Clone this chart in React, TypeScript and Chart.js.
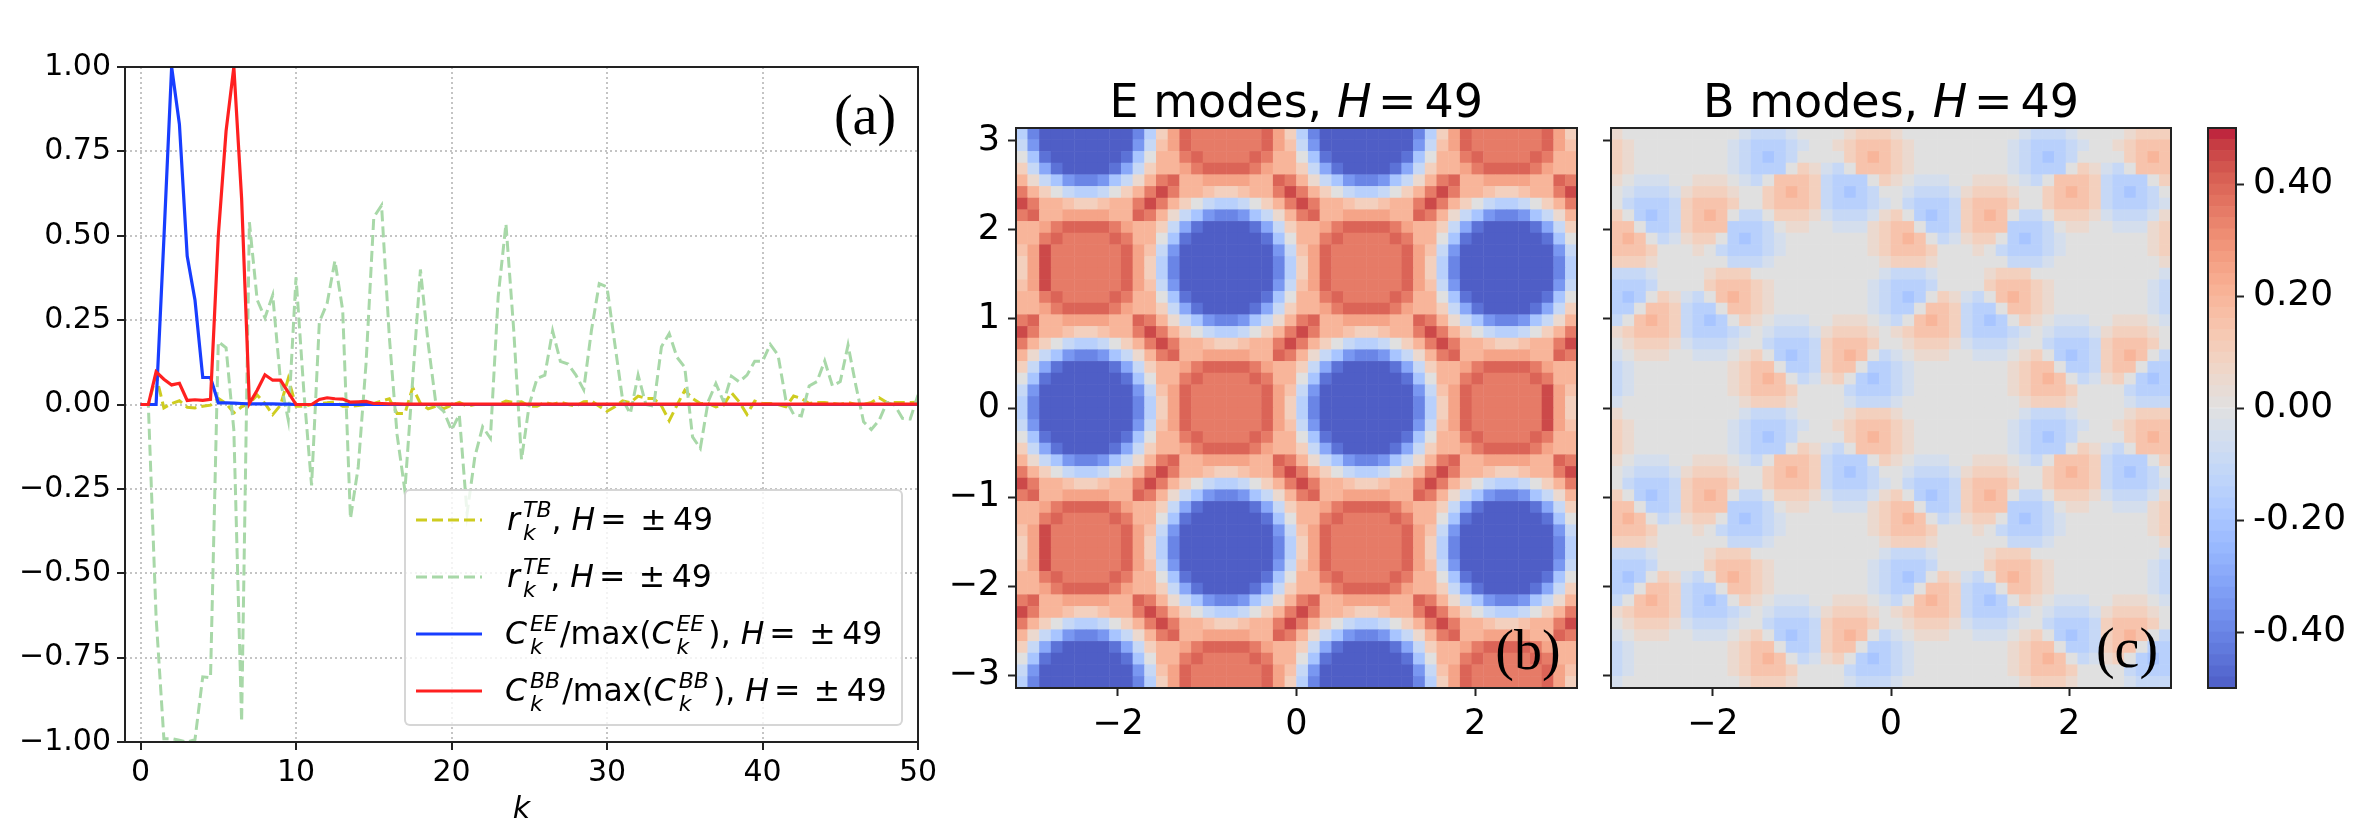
import { useEffect, useRef } from "react"
import { Chart, registerables } from "chart.js"

Chart.register(...registerables)

const W = 2374
const H = 840

// panel (a): correlation and normalised spectra against k
const kValues = [
  0, 0.5, 1, 1.5, 2, 2.5, 3, 3.5, 4, 4.5, 5, 5.5, 6, 6.5, 7, 7.5, 8, 8.5, 9, 9.5,
  10, 10.5, 11, 11.5, 12, 12.5, 13, 13.5, 14, 14.5, 15, 15.5, 16, 16.5, 17, 17.5, 18, 18.5, 19, 19.5,
  20, 20.5, 21, 21.5, 22, 22.5, 23, 23.5, 24, 24.5, 25, 25.5, 26, 26.5, 27, 27.5, 28, 28.5, 29, 29.5,
  30, 30.5, 31, 31.5, 32, 32.5, 33, 33.5, 34, 34.5, 35, 35.5, 36, 36.5, 37, 37.5, 38, 38.5, 39, 39.5,
  40, 40.5, 41, 41.5, 42, 42.5, 43, 43.5, 44, 44.5, 45, 45.5, 46, 46.5, 47, 47.5, 48, 48.5, 49, 49.5,
  50,
]
const rTB = [
  0, 0, 0.085, -0.01, 0.003, 0.011, -0.008, -0.01, -0.005, -0.002,
  0.018, 0.003, -0.025, -0.007, 0.003, 0.028, 0.003, -0.03, -0.002, 0.077,
  -0.005, -0.005, 0, 0.003, 0.005, 0.008, -0.005, -0.005, -0.003, 0,
  0.003, 0.01, 0.017, -0.027, -0.027, 0.05, 0.003, -0.013, -0.005, -0.012,
  -0.002, 0.006, -0.005, 0, 0, 0, 0, 0.01, 0.006, 0.008,
  -0.005, -0.005, 0.006, 0, 0.007, 0, -0.005, 0.008, 0.01, -0.005,
  -0.02, -0.007, 0.011, 0.005, 0.025, 0.018, 0.018, -0.004, -0.048, -0.002,
  0.042, 0.018, 0.003, 0.003, -0.007, -0.002, 0.035, 0.008, -0.029, 0.01,
  0.003, 0.003, 0, -0.007, 0.025, 0.018, 0.003, 0.006, 0.006, 0.003,
  0, 0.006, 0, 0, 0.006, 0.02, 0.006, 0.006, 0.006, 0.006,
  0.007,
]
const rTE = [
  0, 0, -0.63, -0.99, -0.99, -0.995, -1, -0.993, -0.807, -0.81,
  0.186, 0.168, -0.076, -0.94, 0.54, 0.31, 0.257, 0.324, 0.07, -0.046,
  0.377, 0.04, -0.24, 0.245, 0.3, 0.426, 0.28, -0.338, -0.185, 0.12,
  0.555, 0.59, 0.2, -0.09, -0.255, 0.072, 0.4, 0.18, 0, -0.02,
  -0.076, -0.03, -0.323, -0.155, -0.066, -0.1, 0.32, 0.535, 0.22, -0.163,
  0, 0.077, 0.087, 0.218, 0.128, 0.12, 0.087, 0.044, 0.22, 0.358,
  0.348, 0.18, 0.015, -0.027, 0.087, 0, -0.005, 0.171, 0.21, 0.14,
  0.11, -0.096, -0.13, 0.008, 0.062, 0.008, 0.084, 0.067, 0.087, 0.128,
  0.128, 0.178, 0.146, 0.013, -0.029, -0.034, 0.055, 0.068, 0.129, 0.055,
  0.068, 0.176, 0.057, -0.051, -0.074, -0.047, 0.006, -0.002, -0.041, -0.043,
  0.028,
]
const cEE = [
  0, 0, 0, 0.49, 1, 0.83, 0.44, 0.31, 0.08, 0.08,
  0.005, 0.005, 0.004, 0.003, 0.002, 0.002, 0.002, 0.002, 0.001, 0.001,
  0, 0, 0, 0, 0, 0, 0, 0, 0, 0,
  0, 0, 0, 0, 0, 0, 0, 0, 0, 0,
  0, 0, 0, 0, 0, 0, 0, 0, 0, 0,
  0, 0, 0, 0, 0, 0, 0, 0, 0, 0,
  0, 0, 0, 0, 0, 0, 0, 0, 0, 0,
  0, 0, 0, 0, 0, 0, 0, 0, 0, 0,
  0, 0, 0, 0, 0, 0, 0, 0, 0, 0,
  0, 0, 0, 0, 0, 0, 0, 0, 0, 0,
  0,
]
const cBB = [
  0, 0, 0.097, 0.075, 0.058, 0.063, 0.012, 0.014, 0.012, 0.015,
  0.5, 0.81, 1, 0.61, 0.003, 0.042, 0.088, 0.072, 0.072, 0.036,
  0, 0, 0, 0.015, 0.02, 0.017, 0.016, 0.007, 0.008, 0.009,
  0.003, 0.003, 0.002, 0.002, 0.001, 0.001, 0.001, 0.001, 0.001, 0.001,
  0.001, 0.001, 0.001, 0.001, 0.001, 0.001, 0.001, 0.001, 0.001, 0.001,
  0.001, 0.001, 0.001, 0.001, 0.001, 0.001, 0.001, 0.001, 0.001, 0.001,
  0.001, 0.001, 0.001, 0.001, 0.001, 0.001, 0.001, 0.001, 0.001, 0.001,
  0.001, 0.001, 0.001, 0.001, 0.001, 0.001, 0.001, 0.001, 0.001, 0.001,
  0.001, 0.001, 0.001, 0.001, 0.001, 0.001, 0.001, 0.001, 0.001, 0.001,
  0.001, 0.001, 0.001, 0.001, 0.001, 0.001, 0.001, 0.001, 0.001, 0.001,
  0.001,
]

const kTicks = [0, 10, 20, 30, 40, 50]
const rTicks = [-1, -0.75, -0.5, -0.25, 0, 0.25, 0.5, 0.75, 1]
const mapXTicks = [-2, 0, 2]
const mapYTicks = [-3, -2, -1, 0, 1, 2, 3]
const barTicks = [-0.4, -0.2, 0, 0.2, 0.4]

const YELLOW = "rgb(206,204,32)"
const GREEN = "rgb(168,216,168)"
const BLUE = "rgb(24,62,255)"
const RED = "rgb(255,32,32)"

// one letter per cell, a = -0.50 ... k = 0 ... u = 0.50
const levelKeys = "abcdefghijklmnopqrstu"
const levelValues = [
  -0.5, -0.45, -0.4, -0.35, -0.3, -0.25, -0.2, -0.15, -0.1, -0.05, 0,
  0.05, 0.1, 0.15, 0.2, 0.25, 0.3, 0.35, 0.4, 0.45, 0.5,
]

const eModeRows = [
  "hcaaaa aaaachmpsrrr rrrspmhcaaaa aaaachmpsrrr rrrspm",
  "idaaaa aaaadinpsrrr rrrspnidaaaa aaaadinpsrrr rrrspn",
  "kgbaaa aaabgkoorsrr rrsrookgbaaa aaabgkoorsrr rrsroo",
  "miebaa aabeimooprss ssrpoomiebaa aabeimooprss ssrpoo",
  "oligdc cdgilorsoopp ppoosroligdc cdgilorsoopp ppoosr",
  "romkih hikmortroonm mnoortromkih hikmortroonm mnoort",
  "troonm mnoortromkih hikmortroonm mnoortromkih hikmor",
  "rsoopp ppoosroligdc cdgilorsoopp ppoosroligdc cdgilo",
  "ooprss ssrpoomiebaa aabeimooprss ssrpoomiebaa aabeim",
  "oorsrr rrsrookgbaaa aaabgkoorsrr rrsrookgbaaa aaabgk",
  "nptrrr rrrspnidaaaa aaaadinpsrrr rrrspnidaaaa aaaadi",
  "mptrrr rrrspmhcaaaa aaaachmpsrrr rrrspmhcaaaa aaaach",
  "mptrrr rrrspmhcaaaa aaaachmpsrrr rrrspmhcaaaa aaaach",
  "nptrrr rrrspnidaaaa aaaadinpsrrr rrrspnidaaaa aaaadi",
  "oorsrr rrsrookgbaaa aaabgkoorsrr rrsrookgbaaa aaabgk",
  "ooprss ssrpoomiebaa aabeimooprss ssrpoomiebaa aabeim",
  "rsoopp ppoosroligdc cdgilorsoopp ppoosroligdc cdgilo",
  "troonm mnoortromkih hikmortroonm mnoortromkih hikmor",
  "romkih hikmortroonm mnoortromkih hikmortroonm mnoort",
  "oligdc cdgilorsoopp ppoosroligdc cdgilorsoopp ppoosr",
  "miebaa aabeimooprss ssrpoomiebaa aabeimooprss ssrpoo",
  "kgbaaa aaabgkoorsrr rrsrookgbaaa aaabgkoorsrr rrsroo",
  "idaaaa aaaadinpsrrr rrrspnidaaaa aaaadinpsrrr rrrtpn",
  "hcaaaa aaaachmpsrrr rrrspmhcaaaa aaaachmpsrrr rrrtpm",
  "hcaaaa aaaachmpsrrr rrrspmhcaaaa aaaachmpsrrr rrrtpm",
  "idaaaa aaaadinpsrrr rrrspnidaaaa aaaadinpsrrr rrrtpn",
  "kgbaaa aaabgkoorsrr rrsrookgbaaa aaabgkoorsrr rrsroo",
  "miebaa aabeimooprss ssrpoomiebaa aabeimooprss ssrpoo",
  "oligdc cdgilorsoopp ppoosroligdc cdgilorsoopp ppoosr",
  "romkih hikmortroonm mnoortromkih hikmortroonm mnoort",
  "troonm mnoortromkih hikmortroonm mnoortromkih hikmor",
  "rsoopp ppoosroligdc cdgilorsoopp ppoosroligdc cdgilo",
  "ooprss ssrpoomiebaa aabeimooprss ssrpoomiebaa aabeim",
  "oorsrr rrsrookgbaaa aaabgkoorsrr rrsrookgbaaa aaabgk",
  "nptrrr rrrspnidaaaa aaaadinpsrrr rrrspnidaaaa aaaadi",
  "mptrrr rrrspmhcaaaa aaaachmpsrrr rrrspmhcaaaa aaaach",
  "mptrrr rrrspmhcaaaa aaaachmpsrrr rrrspmhcaaaa aaaach",
  "nptrrr rrrspnidaaaa aaaadinpsrrr rrrspnidaaaa aaaadi",
  "oorsrr rrsrookgbaaa aaabgkoorsrr rrsrookgbaaa aaabgk",
  "ooprss ssrpoomiebaa aabeimooprss ssrpoomiebaa aabeim",
  "rsoopp ppoosroligdc cdgilorsoopp ppoosroligdc cdgilo",
  "troonm mnoortromkih hikmortroonm mnoortromkih hikmor",
  "romkih hikmortroonm mnoortromkih hikmortroonm mnoort",
  "oligdc cdgilorsoopp ppoosroligdc cdgilorsoopp ppoosr",
  "miebaa aabeimooprss ssrpoomiebaa aabeimooprss ssrpoo",
  "kgbaaa aaabgkoorsrr rrsrookgbaaa aaabgkoorsrr rrsroo",
  "idaaaa aaaadinpsrrr rrrspnidaaaa aaaadinpsrrr rrrspn",
  "hcaaaa aaaachmpsrrr rrrspmhcaaaa aaaachmpsrrr rrrspm",
]

const bModeRows = [
  "lkkkkkkkkkkjiiijkkkklmmm lkkkkkkkkkkjiiijkkkklmmm",
  "mlkkkkkkkkjihhhijkklmnnn mlkkkkkkkkjihhhijkklmnnn",
  "mlkkkkkkkkjihghikkkkmnon mlkkkkkkkkjihghikkkkmnon",
  "mlkkkkkkkkjihhhkmljiknnn mlkkkkkkkkjihhhkmljiknnn",
  "lkjjjkklllkjiknnnmihhhkm lkjjjkklllkjiknnnmihhhkm",
  "kjiiijlmmmlkkmnonmihghik kjiiijlmmmlkkmnonmihghik",
  "kihhhimnnnmkkmnnnmihhhij kihhhimnnnmkkmnnnmihhhij",
  "mkhghimnonkiikmmmljiiijl mkhghimnonkiikmmmljiiijl",
  "nnkhhimnnnhhhikllkkjjjlm nnkhhimnnnhhhikllkkjjjlm",
  "nonkijlmmkhghijkkkkkkklm nonkijlmmkhghijkkkkkkklm",
  "nnnmkkklkihhhijkkkkkkklm nnnmkkklkihhhijkkkkkkklm",
  "mmmlkkkkkkiiijkkkkkkkkkl mmmlkkkkkkiiijkkkkkkkkkl",
  "iiijkkkklmmmkkkkkkkkkkkj iiijkkkklmmmkkkkkkkkkkkj",
  "hhhikkkkmnnnmlkkkkkkkkji hhhikkkkmnnnmlkkkkkkkkji",
  "hghkmljiknonmlkkkkkkkkji hghkmljiknonmlkkkkkkkkji",
  "hhknnmihhknnmlkkkkkkkkji hhknnmihhknnmlkkkkkkkkji",
  "iknonmihghkmlkjjjkklllkj iknonmihghkmlkjjjkklllkj",
  "lmnnnmihhhijkjiiijlmmmlk lmnnnmihhhijkjiiijlmmmlk",
  "klmmmljiiijkkihhhimnnnmk klmmmljiiijkkihhhimnnnmk",
  "jklllkkjjjklmkhghimnonki jklllkkjjjklmkhghimnonki",
  "ijkkkkkkkklmnnkhhimnnkhh ijkkkkkkkklmnnkhhimnnkhh",
  "ijkkkkkkkklmnonkijlmkhgh ijkkkkkkkklmnonkijlmkhgh",
  "ijkkkkkkkklmnnnmkkkkihhh ijkkkkkkkklmnnnmkkkkihhh",
  "jkkkkkkkkkklmmmlkkkkjiii jkkkkkkkkkklmmmlkkkkjiii",
  "lkkkkkkkkkkjiiijkkkklmmm lkkkkkkkkkkjiiijkkkklmmm",
  "mlkkkkkkkkjihhhijkklmnnn mlkkkkkkkkjihhhijkklmnnn",
  "mlkkkkkkkkjihghikkkkmnon mlkkkkkkkkjihghikkkkmnon",
  "mlkkkkkkkkjihhhkmljiknnn mlkkkkkkkkjihhhkmljiknnn",
  "lkjjjkklllkjiknnnmihhhkm lkjjjkklllkjiknnnmihhhkm",
  "kjiiijlmmmlkkmnonmihghik kjiiijlmmmlkkmnonmihghik",
  "kihhhimnnnmkkmnnnmihhhij kihhhimnnnmkkmnnnmihhhij",
  "mkhghimnonkiikmmmljiiijl mkhghimnonkiikmmmljiiijl",
  "nnkhhimnnnhhhikllkkjjjlm nnkhhimnnnhhhikllkkjjjlm",
  "nonkijlmmkhghijkkkkkkklm nonkijlmmkhghijkkkkkkklm",
  "nnnmkkklkihhhijkkkkkkklm nnnmkkklkihhhijkkkkkkklm",
  "mmmlkkkkkkiiijkkkkkkkkkl mmmlkkkkkkiiijkkkkkkkkkl",
  "iiijkkkklmmmkkkkkkkkkkkj iiijkkkklmmmkkkkkkkkkkkj",
  "hhhikkkkmnnnmlkkkkkkkkji hhhikkkkmnnnmlkkkkkkkkji",
  "hghkmljiknonmlkkkkkkkkji hghkmljiknonmlkkkkkkkkji",
  "hhknnmihhknnmlkkkkkkkkji hhknnmihhknnmlkkkkkkkkji",
  "iknonmihghkmlkjjjkklllkj iknonmihghkmlkjjjkklllkj",
  "lmnnnmihhhijkjiiijlmmmlk lmnnnmihhhijkjiiijlmmmlk",
  "klmmmljiiijkkihhhimnnnmk klmmmljiiijkkihhhimnnnmk",
  "jklllkkjjjklmkhghimnonki jklllkkjjjklmkhghimnonki",
  "ijkkkkkkkklmnnkhhimnnkhh ijkkkkkkkklmnnkhhimnnkhh",
  "ijkkkkkkkklmnonkijlmkhgh ijkkkkkkkklmnonkijlmkhgh",
  "ijkkkkkkkklmnnnmkkkkihhh ijkkkkkkkklmnnnmkkkkihhh",
  "jkkkkkkkkkklmmmlkkkkjiii jkkkkkkkkkklmmmlkkkkjiii",
]

// colour bar steps
const barEdges = [
  -0.5, -0.48, -0.46, -0.44, -0.42, -0.4, -0.38, -0.36, -0.34, -0.32, -0.3, -0.28, -0.26,
  -0.24, -0.22, -0.2, -0.18, -0.16, -0.14, -0.12, -0.1, -0.08, -0.06, -0.04, -0.02, 0,
  0.02, 0.04, 0.06, 0.08, 0.1, 0.12, 0.14, 0.16, 0.18, 0.2, 0.22, 0.24, 0.26, 0.28, 0.3,
  0.32, 0.34, 0.36, 0.38, 0.4, 0.42, 0.44, 0.46, 0.48, 0.5,
]

// matplotlib coolwarm
const coolwarm = [
  [59, 76, 192], [68, 90, 204], [77, 104, 215], [87, 117, 225], [98, 130, 234], [108, 142, 241],
  [119, 154, 247], [130, 165, 251], [141, 176, 254], [152, 185, 255], [163, 194, 255], [174, 201, 253],
  [184, 208, 249], [194, 213, 244], [204, 217, 238], [213, 219, 230], [221, 221, 221], [229, 216, 209],
  [236, 211, 197], [241, 204, 185], [245, 196, 173], [247, 187, 160], [247, 177, 148], [247, 166, 135],
  [244, 154, 123], [241, 141, 111], [236, 127, 99], [229, 112, 88], [222, 96, 77], [213, 80, 66],
  [203, 62, 56], [192, 40, 47], [180, 4, 38],
]
const V_MIN = -0.5
const V_MAX = 0.5

function colorFor(v: number) {
  const t = Math.min(Math.max((v - V_MIN) / (V_MAX - V_MIN), 0), 1) * (coolwarm.length - 1)
  const i = Math.min(Math.floor(t), coolwarm.length - 2)
  const f = t - i
  // alpha 0.9 over white
  const ch = (n: number) => Math.round((coolwarm[i][n] * (1 - f) + coolwarm[i + 1][n] * f) * 0.9 + 25.5)
  return `rgb(${ch(0)},${ch(1)},${ch(2)})`
}

const GRID_SIZE = 48
const gridAxis = Array.from({ length: GRID_SIZE }, (_, i) => -Math.PI + ((i + 0.5) * 2 * Math.PI) / GRID_SIZE)

function cellsFrom(rows: string[]) {
  return rows.flatMap((row, j) =>
    [...row.replace(/ /g, "")].map((ch, i) => ({
      x: gridAxis[i],
      y: gridAxis[GRID_SIZE - 1 - j],
      v: levelValues[levelKeys.indexOf(ch)],
    })),
  )
}

const areaA = { left: 125, right: 918, top: 67, bottom: 742 }
const areaB = { left: 1016, right: 1577, top: 128, bottom: 688 }
const areaC = { left: 1611, right: 2171, top: 128, bottom: 688 }
const areaBar = { left: 2208, right: 2236, top: 128, bottom: 688 }

const SPINE = "#222"

const framePlugin = {
  id: "frame",
  afterDraw(chart: any) {
    const { ctx, chartArea: a } = chart
    ctx.save()
    ctx.strokeStyle = SPINE
    ctx.lineWidth = 2
    ctx.strokeRect(a.left, a.top, a.right - a.left, a.bottom - a.top)
    ctx.restore()
  },
}

const withTicks = (values: number[]) => (scale: any) => {
  scale.ticks = values.map((value) => ({ value }))
}

const baseOptions = {
  responsive: false,
  animation: false,
  devicePixelRatio: 1,
  events: [],
  plugins: { legend: { display: false }, tooltip: { enabled: false } },
}

Chart.defaults.font.family = '"DejaVu Sans", sans-serif'

const lineDataset = (label: string, values: number[], color: string, dashed: boolean, order: number) => ({
  label,
  data: kValues.map((x, i) => ({ x, y: values[i] })),
  borderColor: color,
  borderWidth: dashed ? 3 : 3.2,
  borderDash: dashed ? [11, 5] : [],
  pointRadius: 0,
  tension: 0,
  order,
})

const dottedGrid = { color: "#c4c4c4", lineWidth: 2, tickColor: SPINE, tickWidth: 2, tickLength: 8 }

const lineConfig: any = {
  type: "line",
  data: {
    datasets: [
      lineDataset("rTB", rTB, YELLOW, true, 3),
      lineDataset("rTE", rTE, GREEN, true, 2),
      lineDataset("cEE", cEE, BLUE, false, 1),
      lineDataset("cBB", cBB, RED, false, 0),
    ],
  },
  options: {
    ...baseOptions,
    layout: { padding: { left: 0, top: areaA.top, right: W - areaA.right, bottom: 0 } },
    scales: {
      x: {
        type: "linear",
        min: -1,
        max: 50,
        afterBuildTicks: withTicks(kTicks),
        afterFit: (s: any) => { s.height = H - areaA.bottom },
        grid: dottedGrid,
        border: { display: false, dash: [2, 3] },
        ticks: { font: { size: 30 }, color: "#000", padding: 5, maxRotation: 0, autoSkip: false },
        title: { display: true, text: "k", font: { size: 30, style: "italic" }, color: "#000", padding: { top: 0, bottom: 12 } },
      },
      y: {
        min: -1,
        max: 1,
        afterBuildTicks: withTicks(rTicks),
        afterFit: (s: any) => { s.width = areaA.left },
        grid: dottedGrid,
        border: { display: false, dash: [2, 3] },
        ticks: {
          font: { size: 30 },
          color: "#000",
          padding: 6,
          autoSkip: false,
          callback: (v: number) => v.toFixed(2).replace("-", "\u2212"),
        },
      },
    },
  },
  plugins: [framePlugin],
}

const mapConfig = (rows: string[], area: typeof areaB, showY: boolean): any => {
  const cells = cellsFrom(rows)
  return {
    type: "scatter",
    data: {
      datasets: [
        {
          data: cells,
          backgroundColor: cells.map((c) => colorFor(c.v)),
          pointStyle: "rect",
          pointRadius: 8.6,
          pointBorderWidth: 0,
        },
      ],
    },
    options: {
      ...baseOptions,
      layout: { padding: { left: 0, top: area.top, right: W - area.right, bottom: 0 } },
      scales: {
        x: {
          type: "linear",
          min: -Math.PI,
          max: Math.PI,
          afterBuildTicks: withTicks(mapXTicks),
          afterFit: (s: any) => { s.height = H - area.bottom },
          grid: { drawOnChartArea: false, tickColor: SPINE, tickWidth: 2, tickLength: 8 },
          border: { display: false },
          ticks: {
            font: { size: 35 },
            color: "#000",
            padding: 8,
            maxRotation: 0,
            autoSkip: false,
            callback: (v: number) => String(v).replace("-", "\u2212"),
          },
        },
        y: {
          type: "linear",
          min: -Math.PI,
          max: Math.PI,
          afterBuildTicks: withTicks(mapYTicks),
          afterFit: (s: any) => { s.width = area.left },
          grid: { drawOnChartArea: false, tickColor: SPINE, tickWidth: 2, tickLength: 8 },
          border: { display: false },
          ticks: {
            display: showY,
            font: { size: 35 },
            color: "#000",
            padding: 8,
            autoSkip: false,
            callback: (v: number) => String(v).replace("-", "\u2212"),
          },
        },
      },
    },
    plugins: [framePlugin],
  }
}

const barConfig: any = {
  type: "bar",
  data: {
    labels: [""],
    datasets: barEdges.slice(0, -1).map((lo, i) => ({
      data: [[lo, barEdges[i + 1]]],
      backgroundColor: colorFor((lo + barEdges[i + 1]) / 2),
      grouped: false,
      barPercentage: 1,
      categoryPercentage: 1,
      borderWidth: 0,
    })),
  },
  options: {
    ...baseOptions,
    layout: { padding: { left: areaBar.left, top: areaBar.top, right: 0, bottom: H - areaBar.bottom } },
    scales: {
      x: { display: false },
      y: {
        position: "right",
        min: V_MIN,
        max: V_MAX,
        afterBuildTicks: withTicks(barTicks),
        afterFit: (s: any) => { s.width = W - areaBar.right },
        grid: { drawOnChartArea: false, tickColor: SPINE, tickWidth: 2, tickLength: 8 },
        border: { display: false },
        ticks: {
          font: { size: 36 },
          color: "#000",
          padding: 9,
          autoSkip: false,
          callback: (v: number) => v.toFixed(2),
        },
      },
    },
  },
  plugins: [framePlugin],
}

function ChartLayer({ build }: { build: () => any }) {
  const ref = useRef<HTMLCanvasElement>(null)

  useEffect(() => {
    if (!ref.current) return
    const chart = new Chart(ref.current, build())
    return () => chart.destroy()
  }, [build])

  return <canvas ref={ref} width={W} height={H} style={{ position: "absolute", left: 0, top: 0 }} />
}

const buildLine = () => lineConfig
const buildE = () => mapConfig(eModeRows, areaB, true)
const buildB = () => mapConfig(bModeRows, areaC, false)
const buildBar = () => barConfig

const SANS = '"DejaVu Sans", sans-serif'
const LEGEND_FONT = 31.5
const LEGEND_LEFT = 404
const LEGEND_TOP = 489
const LEGEND_BORDER = 2

// mathtext-like stacked super and subscript, it does not change the line box
function Scripts({ sup, width }: { sup: string; width: number }) {
  const small: React.CSSProperties = {
    position: "absolute",
    left: 0,
    fontSize: 22,
    lineHeight: 1,
    fontStyle: "italic",
  }
  return (
    <span style={{ display: "inline-block", position: "relative", width, height: 0 }}>
      <span style={{ ...small, bottom: 9 }}>{sup}</span>
      <span style={{ ...small, top: -8 }}>k</span>
    </span>
  )
}

function Tail() {
  return (
    <>
      <span>,</span>
      <i style={{ marginLeft: 10 }}>H</i>
      <span style={{ marginLeft: 5 }}>=</span>
      <span style={{ marginLeft: 13.5 }}>±</span>
      <span style={{ marginLeft: 6.5 }}>49</span>
    </>
  )
}

function LegendRow({ y, color, dashed, children }: { y: number; color: string; dashed: boolean; children: any }) {
  return (
    <>
      <svg
        width={66}
        height={6}
        style={{ position: "absolute", left: 416 - LEGEND_LEFT - LEGEND_BORDER, top: y - 3 - LEGEND_TOP - LEGEND_BORDER }}
      >
        <line x1={0} x2={66} y1={3} y2={3} stroke={color} strokeWidth={3.2} strokeDasharray={dashed ? "11 5" : undefined} />
      </svg>
      <div
        style={{
          position: "absolute",
          left: 505 - LEGEND_LEFT - LEGEND_BORDER,
          top: y + 10 - 29 - LEGEND_TOP - LEGEND_BORDER,
          lineHeight: "36px",
          fontSize: LEGEND_FONT,
          whiteSpace: "nowrap",
        }}
      >
        {children}
      </div>
    </>
  )
}

function Legend() {
  return (
    <div
      style={{
        position: "absolute",
        left: LEGEND_LEFT,
        top: LEGEND_TOP,
        width: 499,
        height: 237,
        boxSizing: "border-box",
        background: "rgba(255,255,255,0.8)",
        border: `${LEGEND_BORDER}px solid rgba(204,204,204,0.8)`,
        borderRadius: 6,
        fontFamily: SANS,
        color: "#000",
      }}
    >
      <LegendRow y={520} color={YELLOW} dashed>
        <span style={{ marginLeft: 2 }} />
        <i>r</i>
        <span style={{ marginLeft: 3 }} />
        <Scripts sup="TB" width={28.6} />
        <Tail />
      </LegendRow>
      <LegendRow y={577.3} color={GREEN} dashed>
        <span style={{ marginLeft: 2 }} />
        <i>r</i>
        <span style={{ marginLeft: 3 }} />
        <Scripts sup="TE" width={27.3} />
        <Tail />
      </LegendRow>
      <LegendRow y={634.3} color={BLUE} dashed={false}>
        <i>C</i>
        <span style={{ marginLeft: 3 }} />
        <Scripts sup="EE" width={29.9} />
        <span>/max(</span>
        <i>C</i>
        <span style={{ marginLeft: 3 }} />
        <Scripts sup="EE" width={29.9} />
        <span style={{ marginLeft: 2 }}>)</span>
        <Tail />
      </LegendRow>
      <LegendRow y={690.7} color={RED} dashed={false}>
        <i>C</i>
        <span style={{ marginLeft: 3 }} />
        <Scripts sup="BB" width={32.2} />
        <span>/max(</span>
        <i>C</i>
        <span style={{ marginLeft: 3 }} />
        <Scripts sup="BB" width={32.2} />
        <span style={{ marginLeft: 2 }}>)</span>
        <Tail />
      </LegendRow>
    </div>
  )
}

function MapTitle({ left, name }: { left: number; name: string }) {
  return (
    <div
      style={{
        position: "absolute",
        left,
        top: 78,
        fontFamily: SANS,
        fontSize: 46,
        lineHeight: "46px",
        whiteSpace: "nowrap",
        color: "#000",
      }}
    >
      {name} modes, <i>H</i>
      <span style={{ marginLeft: 6.5 }}>=</span>
      <span style={{ marginLeft: 8 }}>49</span>
    </div>
  )
}

function PanelTag({ x, y, text }: { x: number; y: number; text: string }) {
  return (
    <div
      style={{
        position: "absolute",
        left: x,
        top: y,
        transform: "translate(-50%, -50%)",
        fontFamily: '"Liberation Serif", serif',
        fontSize: 56,
        lineHeight: 1,
        color: "#000",
      }}
    >
      {text}
    </div>
  )
}

export default function App() {
  return (
    <div style={{ position: "absolute", left: 0, top: 0, width: W, height: H, background: "#fff", overflow: "hidden" }}>
      <ChartLayer build={buildLine} />
      <ChartLayer build={buildE} />
      <ChartLayer build={buildB} />
      <ChartLayer build={buildBar} />
      <Legend />
      <MapTitle left={1109.5} name="E" />
      <MapTitle left={1703} name="B" />
      <PanelTag x={865} y={115} text="(a)" />
      <PanelTag x={1528} y={650} text="(b)" />
      <PanelTag x={2127} y={648} text="(c)" />
    </div>
  )
}
